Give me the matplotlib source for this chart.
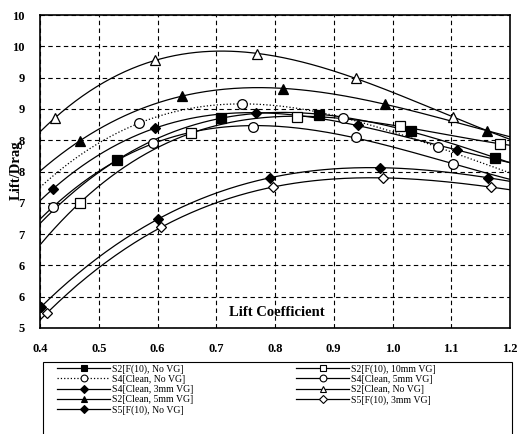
import numpy as np
import matplotlib.pyplot as plt
from matplotlib.lines import Line2D
from matplotlib.patches import Rectangle

plt.rcParams['font.family'] = ['Liberation Serif', 'DejaVu Serif']

# lift coefficient / lift-drag points
s2_f10_novg_x = [0.531, 0.708, 0.875, 1.031, 1.174]
s2_f10_novg_y = [7.68, 8.36, 8.40, 8.15, 7.72]

s4_clean_novg_x = [0.568, 0.744, 0.916, 1.077]
s4_clean_novg_y = [8.27, 8.58, 8.36, 7.89]

s4_clean_3mm_x = [0.422, 0.596, 0.768, 0.941, 1.110]
s4_clean_3mm_y = [7.22, 8.20, 8.43, 8.24, 7.84]

s2_clean_5mm_x = [0.468, 0.642, 0.814, 0.987, 1.161]
s2_clean_5mm_y = [7.99, 8.71, 8.82, 8.58, 8.15]

s5_f10_novg_x = [0.402, 0.601, 0.791, 0.979, 1.163]
s5_f10_novg_y = [5.34, 6.74, 7.40, 7.56, 7.40]

s2_f10_10mm_x = [0.468, 0.657, 0.837, 1.013, 1.183]
s2_f10_10mm_y = [7.00, 8.12, 8.37, 8.23, 7.94]

s4_clean_5mm_x = [0.422, 0.592, 0.763, 0.938, 1.103]
s4_clean_5mm_y = [6.93, 7.96, 8.21, 8.05, 7.62]

s2_clean_novg_x = [0.426, 0.596, 0.769, 0.938, 1.103]
s2_clean_novg_y = [8.36, 9.28, 9.38, 8.99, 8.37]

s5_f10_3mm_x = [0.412, 0.606, 0.797, 0.984, 1.168]
s5_f10_3mm_y = [5.24, 6.61, 7.25, 7.40, 7.25]

x_ticks = [0.4, 0.5, 0.6, 0.7, 0.8, 0.9, 1.0, 1.1, 1.2]
x_tick_labels = ['0.4', '0.5', '0.6', '0.7', '0.8', '0.9', '1.0', '1.1', '1.2']
y_ticks = [5, 5.5, 6, 6.5, 7, 7.5, 8, 8.5, 9, 9.5, 10]
y_tick_labels = ['5', '6', '6', '7', '7', '8', '8', '9', '9', '10', '10']

# label, x, y, marker, face colour, line style
series = [
    ('S2[F(10), No VG]', s2_f10_novg_x, s2_f10_novg_y, 's', 'black', '-'),
    ('S4[Clean, No VG]', s4_clean_novg_x, s4_clean_novg_y, 'o', 'white', ':'),
    ('S4[Clean, 3mm VG]', s4_clean_3mm_x, s4_clean_3mm_y, 'D', 'black', '-'),
    ('S2[Clean, 5mm VG]', s2_clean_5mm_x, s2_clean_5mm_y, '^', 'black', '-'),
    ('S5[F(10), No VG]', s5_f10_novg_x, s5_f10_novg_y, 'D', 'black', '-'),
    ('S2[F(10), 10mm VG]', s2_f10_10mm_x, s2_f10_10mm_y, 's', 'white', '-'),
    ('S4[Clean, 5mm VG]', s4_clean_5mm_x, s4_clean_5mm_y, 'o', 'white', '-'),
    ('S2[Clean, No VG]', s2_clean_novg_x, s2_clean_novg_y, '^', 'white', '-'),
    ('S5[F(10), 3mm VG]', s5_f10_3mm_x, s5_f10_3mm_y, 'D', 'white', '-'),
]

fig = plt.figure(figsize=(5.17, 4.34), dpi=100)
ax = fig.add_axes([40 / 517, 1 - 328 / 434, 470 / 517, 313 / 434])

xs = np.linspace(0.4, 1.2, 200)
handles = []
for label, x, y, mk, fc, ls in series:
    # cubic trend line like the spreadsheet did
    coef = np.polyfit(x, y, 3)
    ax.plot(xs, np.polyval(coef, xs), color='black', lw=0.9, ls=ls, zorder=2)
    msize = 5.5 if mk == 'D' else 7
    ax.plot(x, y, ls='none', marker=mk, ms=msize, mfc=fc, mec='black',
            mew=0.9, zorder=3)
    handles.append(Line2D([], [], color='black', lw=0.9, ls=ls, marker=mk,
                          ms=msize * 0.7, mfc=fc, mec='black', mew=0.8))

ax.set_xlim(0.4, 1.2)
ax.set_ylim(5, 10)
ax.set_xticks(x_ticks)
ax.set_xticklabels(x_tick_labels)
ax.set_yticks(y_ticks)
ax.set_yticklabels(y_tick_labels)
ax.tick_params(length=0, labelsize=9)
ax.tick_params(axis='x', pad=11)
ax.tick_params(axis='y', pad=11)
for t in ax.get_xticklabels() + ax.get_yticklabels():
    t.set_fontweight('bold')
ax.grid(True, color='black', ls=(0, (4, 3)), lw=0.8)
for s in ax.spines.values():
    s.set_linewidth(1.2)

ax.text(0.503, 0.048, 'Lift Coefficient', transform=ax.transAxes,
        ha='center', va='center', fontsize=10.5, fontweight='bold')
fig.text(16 / 517, 1 - 170 / 434, 'Lift/Drag', rotation=90, ha='center',
         va='center', fontsize=10.5, fontweight='bold')

# legend box runs off the bottom of the picture
fig.add_artist(Rectangle((43 / 517, -0.1), 469 / 517, 0.1 + 1 - 362 / 434,
                         transform=fig.transFigure, fill=False, lw=0.8,
                         color='black'))
fig.legend(handles, [s[0] for s in series], loc='upper left',
           bbox_to_anchor=(57 / 517, 1 - 364 / 434), ncol=2, frameon=False,
           fontsize=7, handlelength=5.5, handletextpad=0.2,
           columnspacing=10.5, labelspacing=0.12, borderpad=0,
           borderaxespad=0)

fig.savefig('out.png', dpi=100)
